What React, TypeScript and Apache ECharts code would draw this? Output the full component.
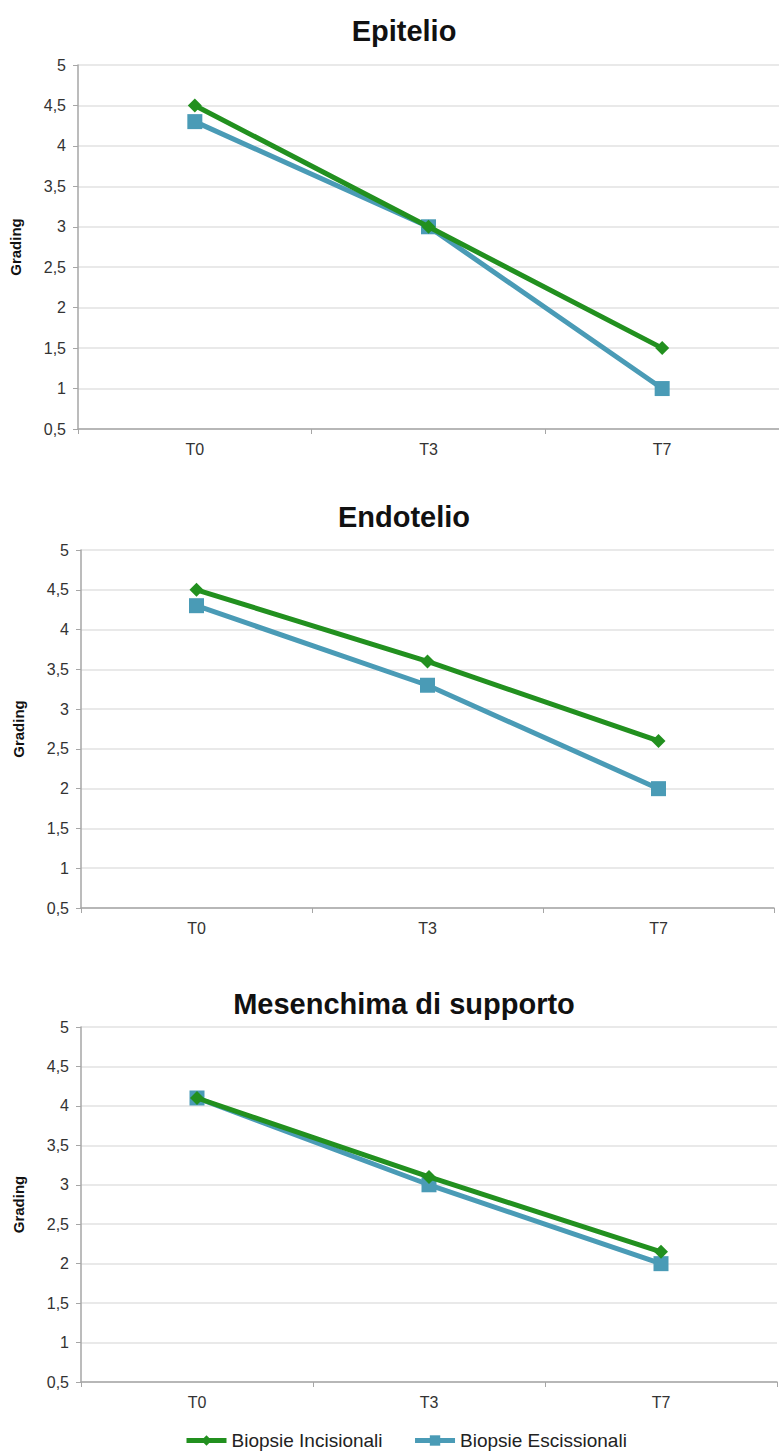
import React, { useEffect, useRef } from "react";
import * as echarts from "echarts";

// Time points and grading values for each tissue
const timePoints = ["T0", "T3", "T7"];
const panelTitles = ["Epitelio", "Endotelio", "Mesenchima di supporto"];
const seriesNames = ["Biopsie Incisionali", "Biopsie Escissionali"];

const epitelioIncisionali = [4.5, 3.0, 1.5];
const epitelioEscissionali = [4.3, 3.0, 1.0];
const endotelioIncisionali = [4.5, 3.6, 2.6];
const endotelioEscissionali = [4.3, 3.3, 2.0];
const mesenchimaIncisionali = [4.1, 3.1, 2.15];
const mesenchimaEscissionali = [4.1, 3.0, 2.0];

const yMin = 0.5;
const yMax = 5;
const yStep = 0.5;

const GREEN = "#22901f";
const BLUE = "#4a9bb6";
const FONT = "'Liberation Sans', Arial, Helvetica, sans-serif";

// Plot rectangles of the three stacked panels
const panels = [
  { left: 78, top: 65, width: 706, height: 364, titleY: 27, nameX: 16 },
  { left: 81, top: 550, width: 693, height: 358, titleY: 513, nameX: 19 },
  { left: 81, top: 1027, width: 696, height: 355, titleY: 1000, nameX: 19 },
];

const panelData = [
  [epitelioIncisionali, epitelioEscissionali],
  [endotelioIncisionali, endotelioEscissionali],
  [mesenchimaIncisionali, mesenchimaEscissionali],
];

export default function App() {
  const ref = useRef<HTMLDivElement>(null);

  useEffect(() => {
    if (!ref.current) return;
    const chart = echarts.init(ref.current, undefined, { renderer: "svg" });

    const grid = panels.map((p) => ({
      left: p.left,
      top: p.top,
      width: p.width,
      height: p.height,
      containLabel: false,
    }));

    const title = panels.map((p, i) => ({
      text: panelTitles[i],
      left: 399,
      top: p.titleY - 16,
      textAlign: "center",
      textStyle: {
        fontFamily: FONT,
        fontWeight: "bold",
        fontSize: 29,
        color: "#111",
      },
    }));

    const xAxis = panels.map((_, i) => ({
      type: "category",
      gridIndex: i,
      data: timePoints,
      boundaryGap: true,
      axisLine: { lineStyle: { color: "#a6a6a6", width: 1.5 } },
      axisTick: { show: true, length: 5, lineStyle: { color: "#a6a6a6" } },
      axisLabel: {
        margin: 12,
        fontFamily: FONT,
        fontSize: 16,
        color: "#333",
      },
    }));

    const yAxis = panels.map((p, i) => ({
      type: "value",
      gridIndex: i,
      min: yMin,
      max: yMax,
      interval: yStep,
      name: "Grading",
      nameLocation: "middle",
      nameGap: p.left - p.nameX - 7,
      nameTextStyle: {
        fontFamily: FONT,
        fontWeight: "bold",
        fontSize: 15,
        color: "#111",
      },
      axisLine: { show: true, lineStyle: { color: "#a6a6a6", width: 1.5 } },
      axisTick: { show: true, length: 5, lineStyle: { color: "#a6a6a6" } },
      axisLabel: {
        margin: 12,
        fontFamily: FONT,
        fontSize: 16,
        color: "#333",
        formatter: (v: number) => String(v).replace(".", ","),
      },
      splitLine: { show: true, lineStyle: { color: "#e2e2e2", width: 1.5 } },
    }));

    const series: any[] = [];
    panelData.forEach((pair, i) => {
      series.push({
        type: "line",
        name: seriesNames[0],
        xAxisIndex: i,
        yAxisIndex: i,
        data: pair[0],
        symbol: "diamond",
        symbolSize: 14,
        color: GREEN,
        lineStyle: { width: 5, color: GREEN },
        itemStyle: { color: GREEN },
        z: 3,
      });
      series.push({
        type: "line",
        name: seriesNames[1],
        xAxisIndex: i,
        yAxisIndex: i,
        data: pair[1],
        symbol: "rect",
        symbolSize: 15,
        color: BLUE,
        lineStyle: { width: 5, color: BLUE },
        itemStyle: { color: BLUE },
        z: 2,
      });
    });

    chart.setOption({
      animation: false,
      backgroundColor: "#ffffff",
      title,
      grid,
      xAxis,
      yAxis,
      series,
      legend: {
        data: seriesNames,
        left: 179,
        top: 1426,
        itemWidth: 40,
        itemHeight: 13,
        itemGap: 30,
        lineStyle: { width: 5 },
        textStyle: { fontFamily: FONT, fontSize: 19, color: "#222" },
      },
    });

    return () => chart.dispose();
  }, []);

  return (
    <div
      ref={ref}
      style={{ position: "absolute", left: 0, top: 0, width: 779, height: 1454 }}
    />
  );
}
